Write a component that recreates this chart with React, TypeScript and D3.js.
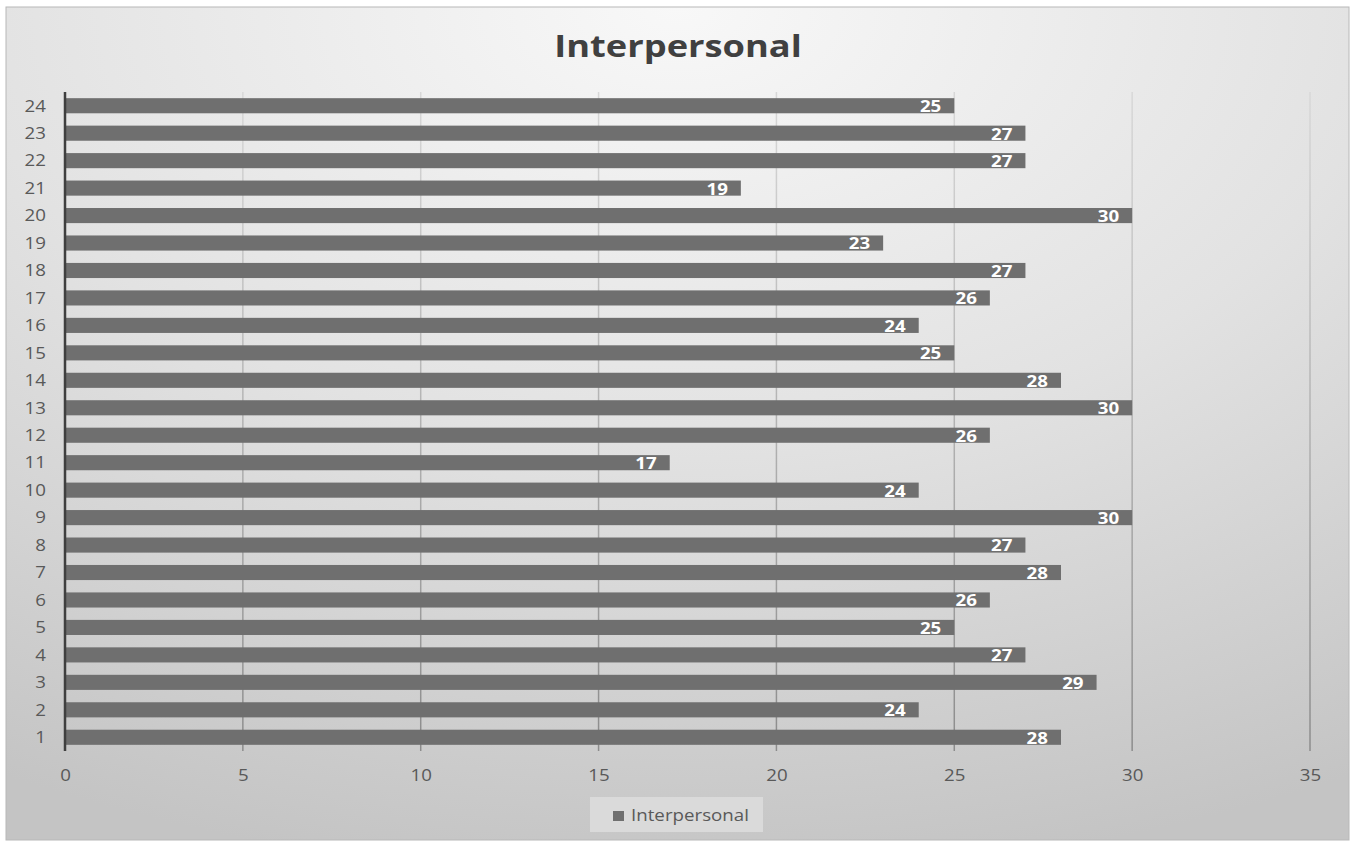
import React from "react";
import * as d3 from "d3";

const categories = ["1","2","3","4","5","6","7","8","9","10","11","12","13","14","15","16","17","18","19","20","21","22","23","24"];
const values = [28,24,29,27,25,26,28,27,30,24,17,26,30,28,25,24,26,27,23,30,19,27,27,25];
const xTicks = [0,5,10,15,20,25,30,35];
const seriesName = "Interpersonal";
const title = "Interpersonal";

const W = 1351, H = 842;
const frame = { x: 6, y: 7, w: 1343, h: 833 };
const plot = { left: 65, right: 1310, top: 92, bottom: 751 };
const SX = 1.17;

function T(props: { x: number; y: number; children: React.ReactNode; [k: string]: any }) {
  const { x, y, children, ...rest } = props;
  return (
    <text transform={`translate(${x},${y}) scale(${SX},1)`} {...rest}>{children}</text>
  );
}

export default function App() {
  const x = d3.scaleLinear().domain([0, 35]).range([plot.left, plot.right]);
  const y = d3.scaleBand<string>().domain([...categories].reverse()).range([plot.top, plot.bottom]).paddingInner(0.45).paddingOuter(0.225);
  const font = "'Open Sans', 'Noto Sans', sans-serif";
  return (
    <svg width={W} height={H} style={{ position: "absolute", left: 0, top: 0 }}>
      <defs>
        <radialGradient id="bg" cx="0.5" cy="0" r="1.05" gradientUnits="objectBoundingBox">
          <stop offset="0" stopColor="#f8f8f8" />
          <stop offset="0.5" stopColor="#e2e2e2" />
          <stop offset="1" stopColor="#c4c4c4" />
        </radialGradient>
        <linearGradient id="grid" gradientUnits="userSpaceOnUse" x1="0" y1={plot.top} x2="0" y2={plot.bottom}>
          <stop offset="0" stopColor="#d8d8d8" />
          <stop offset="1" stopColor="#8c8c8c" />
        </linearGradient>
      </defs>
      <rect x={0} y={0} width={W} height={H} fill="#ffffff" />
      <rect x={frame.x} y={frame.y} width={frame.w} height={frame.h} fill="url(#bg)" stroke="#b8b8b8" strokeWidth={1} />
      <T x={678} y={57} textAnchor="middle" fontFamily={font} fontWeight="bold" fontSize={31} fill="#404040">{title}</T>
      {xTicks.filter(t => t > 0).map(t => (
        <line key={t} x1={x(t)} x2={x(t)} y1={plot.top} y2={plot.bottom} stroke="url(#grid)" strokeWidth={1.5} />
      ))}
      {categories.map((c, i) => (
        <g key={c}>
          <rect x={x(0)} y={y(c)} width={x(values[i]) - x(0)} height={y.bandwidth()} fill="#6f6f6f" />
          <T x={x(values[i]) - 13} y={(y(c) as number) + y.bandwidth() / 2} dy="0.4em" textAnchor="end" fontFamily={font} fontWeight="bold" fontSize={16} fill="#ffffff">{values[i]}</T>
          <T x={46} y={(y(c) as number) + y.bandwidth() / 2} dy="0.36em" textAnchor="end" fontFamily={font} fontSize={16} fill="#595959">{c}</T>
        </g>
      ))}
      <line x1={x(0)} x2={x(0)} y1={plot.top} y2={plot.bottom} stroke="#3f3f3f" strokeWidth={2.5} />
      {xTicks.map(t => (
        <T key={t} x={x(t) + 0.5} y={775} dy="0.36em" textAnchor="middle" fontFamily={font} fontSize={16} fill="#595959">{t}</T>
      ))}
      <g>
        <rect x={590} y={797} width={173} height={35} fill="#dadada" />
        <rect x={613} y={811} width={11} height={10} fill="#6f6f6f" />
        <T x={631} y={815} dy="0.36em" fontFamily={font} fontSize={16} fill="#595959">{seriesName}</T>
      </g>
    </svg>
  );
}
